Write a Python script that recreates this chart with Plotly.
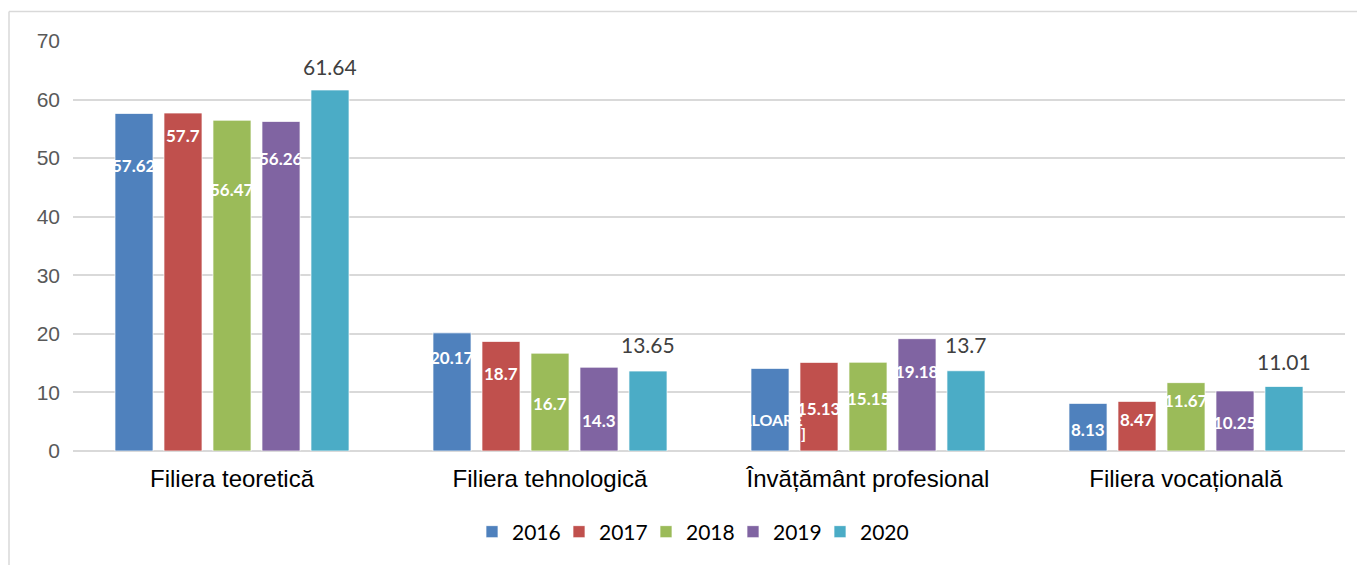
import plotly.graph_objects as go

categories = ["Filiera teoretică", "Filiera tehnologică", "Învățământ profesional", "Filiera vocațională"]
years = ["2016", "2017", "2018", "2019", "2020"]

v2016 = [57.62, 20.17, 14.1, 8.13]
v2017 = [57.7, 18.7, 15.13, 8.47]
v2018 = [56.47, 16.7, 15.15, 11.67]
v2019 = [56.26, 14.3, 19.18, 10.25]
v2020 = [61.64, 13.65, 13.7, 11.01]

t2016 = ["57.62", "20.17", "[VALOARE]", "8.13"]
t2017 = ["57.7", "18.7", "15.13", "8.47"]
t2018 = ["56.47", "16.7", "15.15", "11.67"]
t2019 = ["56.26", "14.3", "19.18", "10.25"]
t2020 = ["61.64", "13.65", "13.7", "11.01"]

# label vertical placement (data units), as moved in the original
ly2016 = [48.8, 15.9, 5.3, 3.6]
ly2017 = [53.8, 13.3, 7.3, 5.3]
ly2018 = [44.7, 8.1, 9.0, 8.7]
ly2019 = [50.0, 5.2, 13.5, 4.8]
ly2020 = [65.7, 18.1, 18.1, 15.2]

colors = ["#4F81BD", "#C0504D", "#9BBB59", "#8064A2", "#4BACC6"]
values = [v2016, v2017, v2018, v2019, v2020]
texts = [t2016, t2017, t2018, t2019, t2020]
labely = [ly2016, ly2017, ly2018, ly2019, ly2020]

W, H = 1365, 565
OFF = 8  # page body margin
# plot area in reference page pixels: x 73..1345, y 41..451
PX0, PX1, PY0, PY1 = 73 - OFF, 1345 - OFF, 41 - OFF, 451 - OFF
ML, MR, MT, MB = PX0, W - PX1, PY0, H - PY1
plot_w = PX1 - PX0
plot_h = PY1 - PY0
cat_w = plot_w / len(categories)
bargap = 0.2296
pitch = cat_w * (1 - bargap) / len(years)

fig = go.Figure()
for i, y in enumerate(years):
    fig.add_trace(go.Bar(
        name=y, x=categories, y=values[i],
        marker=dict(color=colors[i], line=dict(color="rgba(255,255,255,0.7)", width=1)),
        hoverinfo="skip",
    ))
# empty spacer legend entry so the last legend text is not clipped
fig.add_trace(go.Scatter(name="", x=[None], y=[None], mode="markers", showlegend=True,
                         marker=dict(color="rgba(0,0,0,0)", size=1,
                                     line=dict(width=0, color="rgba(0,0,0,0)")),
                         hoverinfo="skip"))

inside_font = dict(family="Lato", size=17, color="white", weight="bold")
annotations = []
for i in range(len(years)):
    shift = (i - 2) * pitch
    for j, c in enumerate(categories):
        txt = texts[i][j]
        if i == 4:
            annotations.append(dict(x=c, y=labely[i][j], xref="x", yref="y", text=txt,
                                    showarrow=False, xshift=shift, yanchor="middle",
                                    font=dict(family="Lato", size=21, color="#404040")))
        elif txt == "[VALOARE]":
            f2 = dict(inside_font, size=16)
            annotations.append(dict(x=c, y=labely[i][j], xref="x", yref="y", text="[VALOARE",
                                    showarrow=False, xshift=shift - 6, yanchor="middle",
                                    font=f2))
            annotations.append(dict(x=c, y=labely[i][j] - 2.2, xref="x", yref="y", text="]",
                                    showarrow=False, xshift=shift + 33, yanchor="middle",
                                    font=f2))
        else:
            annotations.append(dict(x=c, y=labely[i][j], xref="x", yref="y", text=txt,
                                    showarrow=False, xshift=shift, yanchor="middle",
                                    font=inside_font))

def px(xr):
    return (xr - OFF - PX0) / plot_w

def py(yr):
    return (PY1 - (yr - OFF)) / plot_h

shapes = [
    dict(type="line", xref="paper", yref="paper",
         x0=px(9), x1=px(W + 20), y0=py(11.5), y1=py(11.5),
         line=dict(color="#D9D9D9", width=1.5)),
    dict(type="line", xref="paper", yref="paper",
         x0=px(9), x1=px(9), y0=py(11.5), y1=py(H + 20),
         line=dict(color="#D9D9D9", width=1.5)),
]

fig.update_layout(
    width=W, height=H,
    margin=dict(l=ML, r=MR, t=MT, b=MB),
    plot_bgcolor="white", paper_bgcolor="white",
    barmode="group", bargap=bargap, bargroupgap=0.224,
    annotations=annotations, shapes=shapes,
    showlegend=True,
    legend=dict(orientation="h", x=px(472), xanchor="left",
                y=py(532), yanchor="middle",
                font=dict(family="Lato", size=21, color="black"),
                entrywidth=42, traceorder="normal"),
    font=dict(family="Liberation Sans"),
)
fig.update_xaxes(showgrid=False, showline=False, ticks="",
                 tickfont=dict(family="Liberation Sans", size=24, color="black"),
                 ticklabelstandoff=11)
fig.update_yaxes(range=[0, 70], dtick=10, showgrid=True, gridcolor="#D9D9D9", gridwidth=1.5,
                 zeroline=True, zerolinecolor="#D9D9D9", zerolinewidth=1.5,
                 showline=False, ticks="",
                 tickfont=dict(family="Liberation Sans", size=21, color="#595959"),
                 ticklabelstandoff=12)

fig.write_html("out.html")
